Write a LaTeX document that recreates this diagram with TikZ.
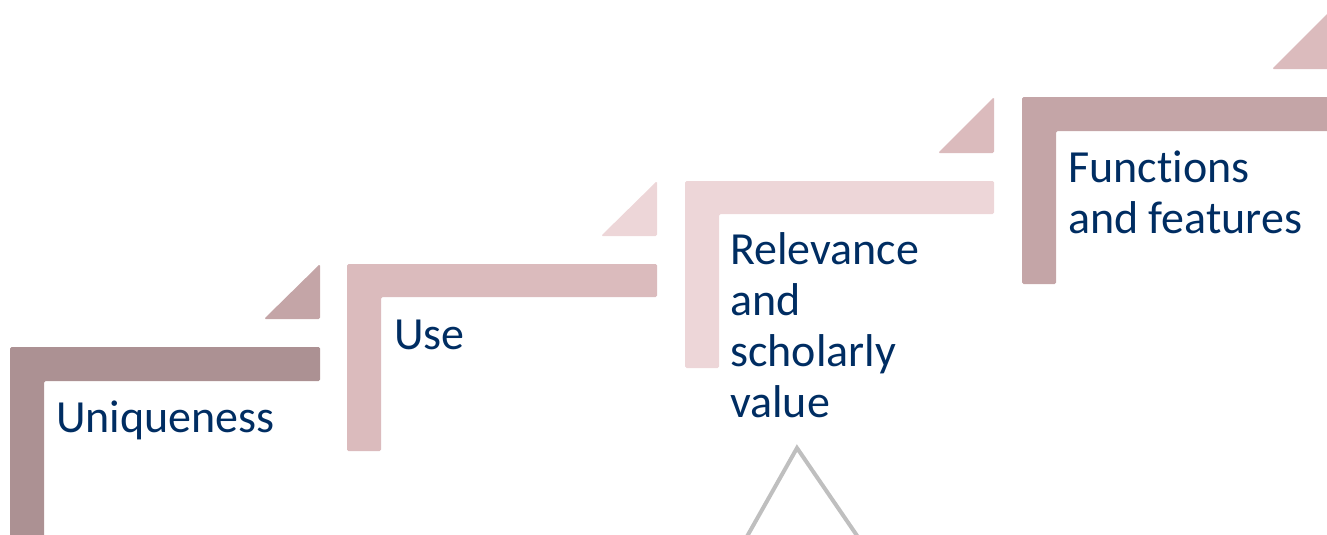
\documentclass[tikz,border=0pt]{standalone}
\usepackage{fontspec}
\setmainfont{Carlito}[Ligatures={NoCommon}]
\definecolor{cA}{HTML}{AC9193}
\definecolor{cB}{HTML}{C4A5A7}
\definecolor{cC}{HTML}{DBBBBD}
\definecolor{cD}{HTML}{EDD6D8}
\definecolor{txt}{RGB}{0,45,98}
\definecolor{gr}{HTML}{BFBFBF}
\tikzset{
  stepL/.style={rounded corners=1.5pt},
  steplabel/.style={inner sep=0pt, anchor=base west, align=left, text=txt,
    font=\fontsize{46}{51}\selectfont}
}
\begin{document}
\begin{tikzpicture}[x=1pt,y=-1pt]
\useasboundingbox (0,0) rectangle (1327,535);
% step 1
\fill[cA,stepL] (10,347) -- (320,347) -- (320,381) -- (44,381) -- (44,540) -- (10,540) -- cycle;
\fill[cB,stepL] (264,319) -- (320,319) -- (320,264) -- cycle;
% step 2
\fill[cC,stepL] (347,264) -- (657,264) -- (657,297) -- (381,297) -- (381,451) -- (347,451) -- cycle;
\fill[cD,stepL] (601,236) -- (657,236) -- (657,181) -- cycle;
% step 3
\fill[cD,stepL] (685,181) -- (994,181) -- (994,214) -- (719,214) -- (719,368) -- (685,368) -- cycle;
\fill[cC,stepL] (938,153) -- (994,153) -- (994,97) -- cycle;
% step 4
\fill[cB,stepL] (1022,97) -- (1335,97) -- (1335,131) -- (1056,131) -- (1056,284) -- (1022,284) -- cycle;
\fill[cC,stepL] (1272,69) -- (1329,69) -- (1329,12) -- cycle;
% grey outline triangle
\coordinate (apex) at (797,448);
\coordinate (bl) at (745,540);
\coordinate (br) at (860,540);
\draw[gr, line width=4pt, line join=miter] (bl) -- (apex) -- (br);
% labels (anchor = baseline of the last line)
\node[steplabel] (u) at (56,432) {Uniqueness};
\node[steplabel] (s) at (394,349) {Use};
\node[steplabel] (r) at (730,417) {Relevance\\and\\scholarly\\value};
\node[steplabel] (f) at (1068,233) {Functions\\and features};
\end{tikzpicture}
\end{document}
